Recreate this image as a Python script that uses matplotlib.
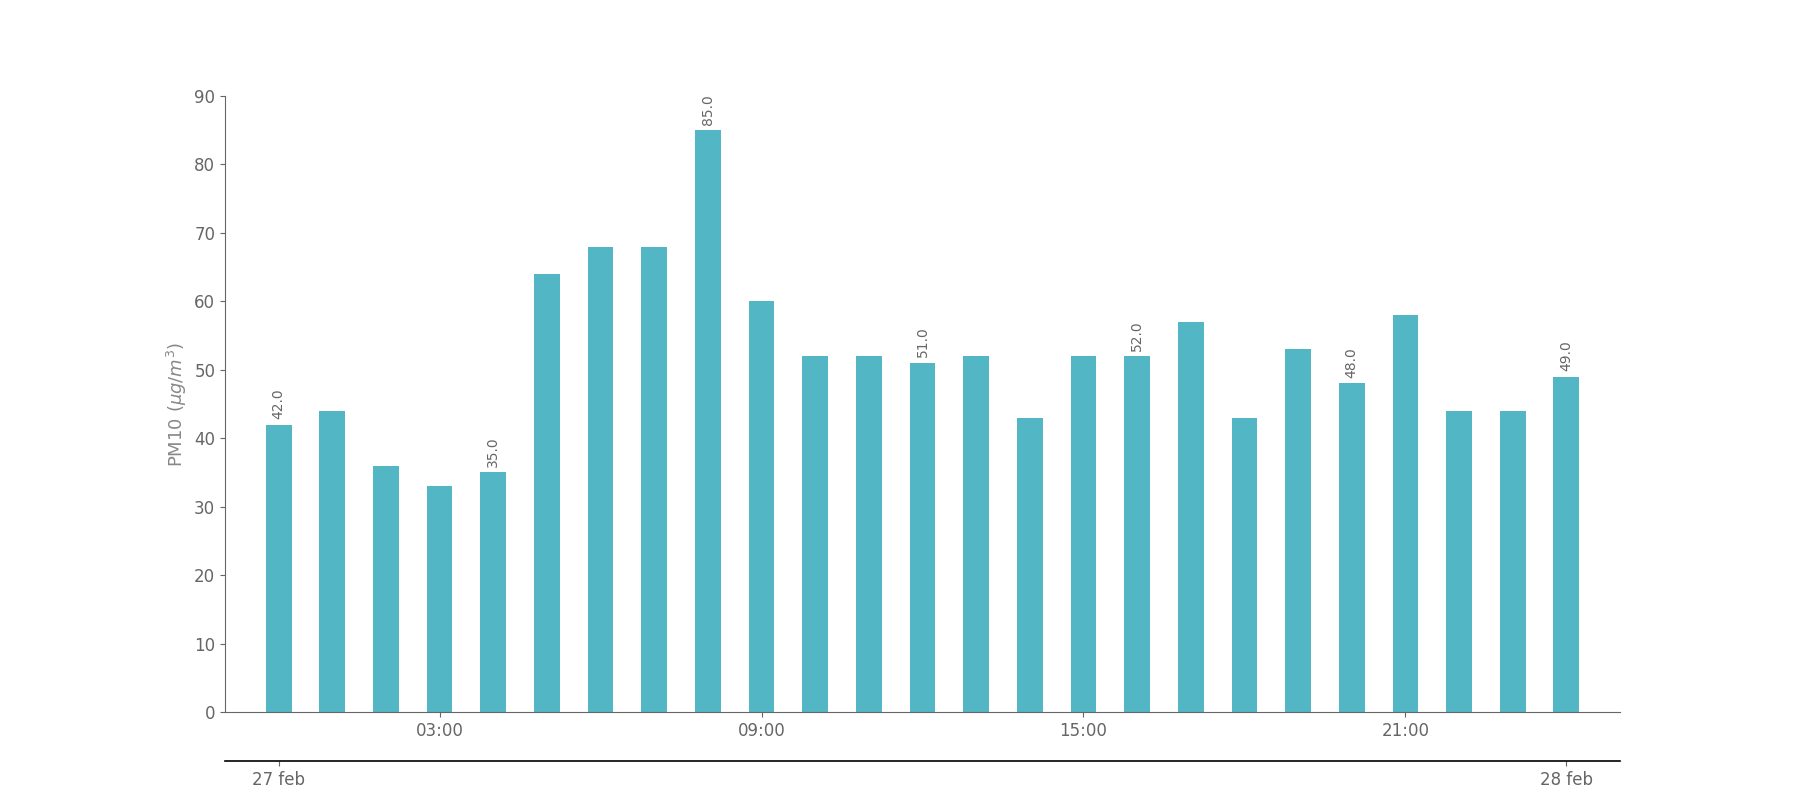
import matplotlib
matplotlib.use('Agg')
import matplotlib.pyplot as plt

# hourly PM10 readings, 27 feb 00:00 -> 28 feb 00:00
hours = list(range(25))
pm10 = [42, 44, 36, 33, 35, 64, 68, 68, 85, 60, 52, 52, 51, 52, 43,
        52, 52, 57, 43, 53, 48, 58, 44, 44, 49]

time_ticks = [3, 9, 15, 21]
time_labels = ['03:00', '09:00', '15:00', '21:00']
date_ticks = [0, 24]
date_labels = ['27 feb', '28 feb']

bar_color = '#52b6c5'
text_color = '#666666'

fig, ax = plt.subplots(figsize=(18, 8), dpi=100)

ax.bar(hours, pm10, width=0.48, color=bar_color)

# value labels every 4th bar
for h, v in zip(hours, pm10):
    if h % 4 == 0:
        ax.annotate(f'{v:.1f}', (h, v), xytext=(0, 4), textcoords='offset points',
                    ha='center', va='bottom', rotation=90, fontsize=10,
                    color=text_color)

ax.set_xlim(-1, 25)
ax.set_ylim(0, 90)
ax.set_xticks(time_ticks)
ax.set_xticklabels(time_labels)
ax.set_ylabel(r'PM10 ($\mu g/m^3$)', fontsize=13, color='#888888')

for s in ['top', 'right']:
    ax.spines[s].set_visible(False)
for s in ['left', 'bottom']:
    ax.spines[s].set_color(text_color)
ax.tick_params(colors=text_color, labelsize=12)

# date axis underneath
sec = ax.secondary_xaxis(-0.08)
sec.set_xticks(date_ticks)
sec.set_xticklabels(date_labels)
sec.spines['bottom'].set_color('black')
sec.spines['bottom'].set_linewidth(1.2)
sec.tick_params(colors=text_color, labelsize=12)

plt.savefig('out.png', dpi=100)
